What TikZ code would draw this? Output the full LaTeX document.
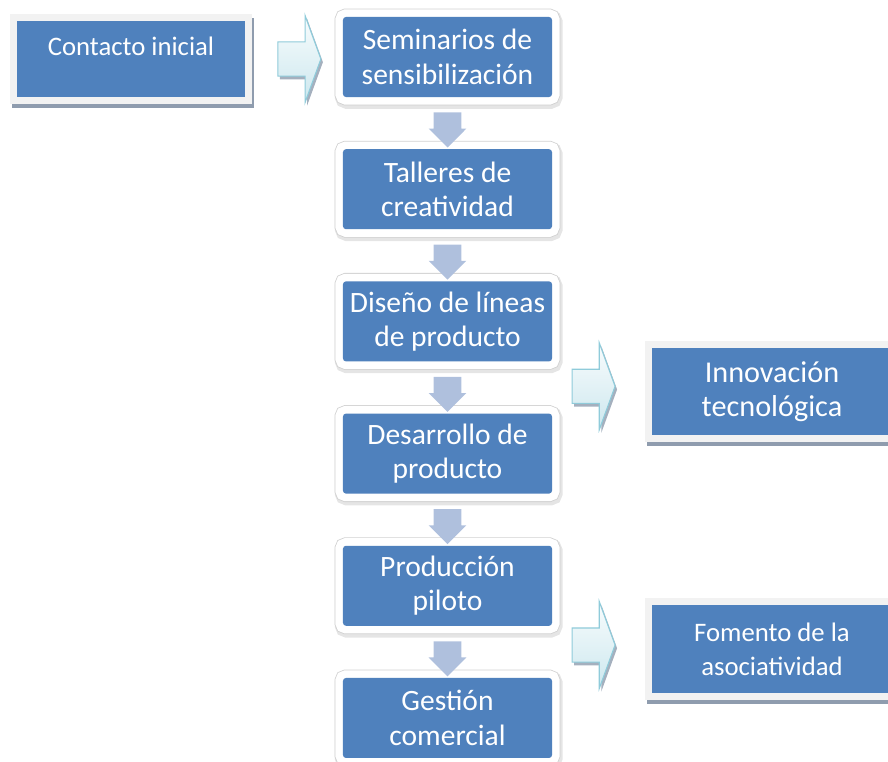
\documentclass[tikz,border=0pt]{standalone}
\usepackage{fontspec}
\setmainfont{Carlito}
\usetikzlibrary{positioning,shapes.arrows}
\definecolor{boxblue}{HTML}{4F81BD}
\definecolor{framegray}{HTML}{F2F2F2}
\definecolor{shadowgray}{HTML}{8F9CAE}
\definecolor{downgray}{HTML}{AFC0DD}
\definecolor{arrowedge}{HTML}{8FCBDA}
\tikzset{
  node distance=1.29cm,
  every node/.style={text=white, align=center},
  stepbox/.style={rectangle, fill=boxblue, rounded corners=0.075cm,
    minimum width=5.225cm, minimum height=2cm, inner sep=0pt,
    font=\fontsize{21}{24.5}\selectfont,
    preaction={draw=black!10, line width=0.47cm, transform canvas={xshift=0.03cm, yshift=-0.06cm}},
    preaction={draw=black!18, line width=0.42cm},
    preaction={draw=white, line width=0.38cm}},
  sidebox/.style={rectangle, fill=boxblue, inner sep=0pt,
    font=\fontsize{19}{24}\selectfont,
    preaction={draw=shadowgray, line width=0.35cm, transform canvas={xshift=0.05cm, yshift=-0.09cm}},
    preaction={draw=black!14, line width=0.37cm},
    preaction={draw=framegray, line width=0.34cm}},
  downarrow/.style={single arrow, rotate=-90, fill=downgray, draw=none,
    minimum height=0.875cm, inner xsep=0pt, inner ysep=0.3375cm,
    single arrow head extend=0.125cm},
  rightarrow/.style={single arrow, draw=arrowedge, line width=0.8pt,
    top color=white!60!arrowedge!15, bottom color=arrowedge!45,
    minimum height=1.075cm, inner xsep=0pt, inner ysep=0.4125cm,
    single arrow head extend=0.66cm, single arrow tip angle=140,
    preaction={fill=shadowgray!80, transform canvas={xshift=0.05cm, yshift=-0.08cm}}}
}

\begin{document}
\begin{tikzpicture}[x=0.025cm, y=-0.025cm]
  \useasboundingbox (0,0) rectangle (888,762);

  \node [sidebox, minimum width=5.7cm, minimum height=1.9cm, text height=13pt, text depth=18pt]
    at (131,59) (contacto) {Contacto inicial};

  \node [stepbox] at (447.5,57) (seminarios) {Seminarios de\\sensibilización};
  \node [stepbox, below=of seminarios] (talleres) {Talleres de\\creatividad};
  \node [stepbox, below=of talleres] (diseno) {Diseño de líneas\\de producto};
  \node [stepbox, below=of diseno] (desarrollo) {Desarrollo de\\producto};
  \node [stepbox, below=of desarrollo] (produccion) {Producción\\piloto};
  \node [stepbox, below=of produccion] (gestion) {Gestión\\comercial};

  \node [sidebox, minimum width=6cm, minimum height=2.175cm, font=\fontsize{21.5}{24.5}\selectfont]
    at (772,391.5) (innovacion) {Innovación\\tecnológica};
  \node [sidebox, minimum width=6cm, minimum height=2.2cm] at (772,649) (fomento) {Fomento de la\\asociatividad};

  % block arrows between the steps
  \path (seminarios) -- (talleres) node[midway, downarrow] {};
  \path (talleres) -- (diseno) node[midway, downarrow] {};
  \path (diseno) -- (desarrollo) node[midway, downarrow] {};
  \path (desarrollo) -- (produccion) node[midway, downarrow] {};
  \path (produccion) -- (gestion) node[midway, downarrow] {};

  \node [rightarrow, right=0.8cm of contacto] (toseminarios) {};
  \node [rightarrow, left=0.9cm of innovacion, yshift=0.13cm] (toinnovacion) {};
  \node [rightarrow, left=0.9cm of fomento, yshift=0.1cm] (tofomento) {};
\end{tikzpicture}
\end{document}
